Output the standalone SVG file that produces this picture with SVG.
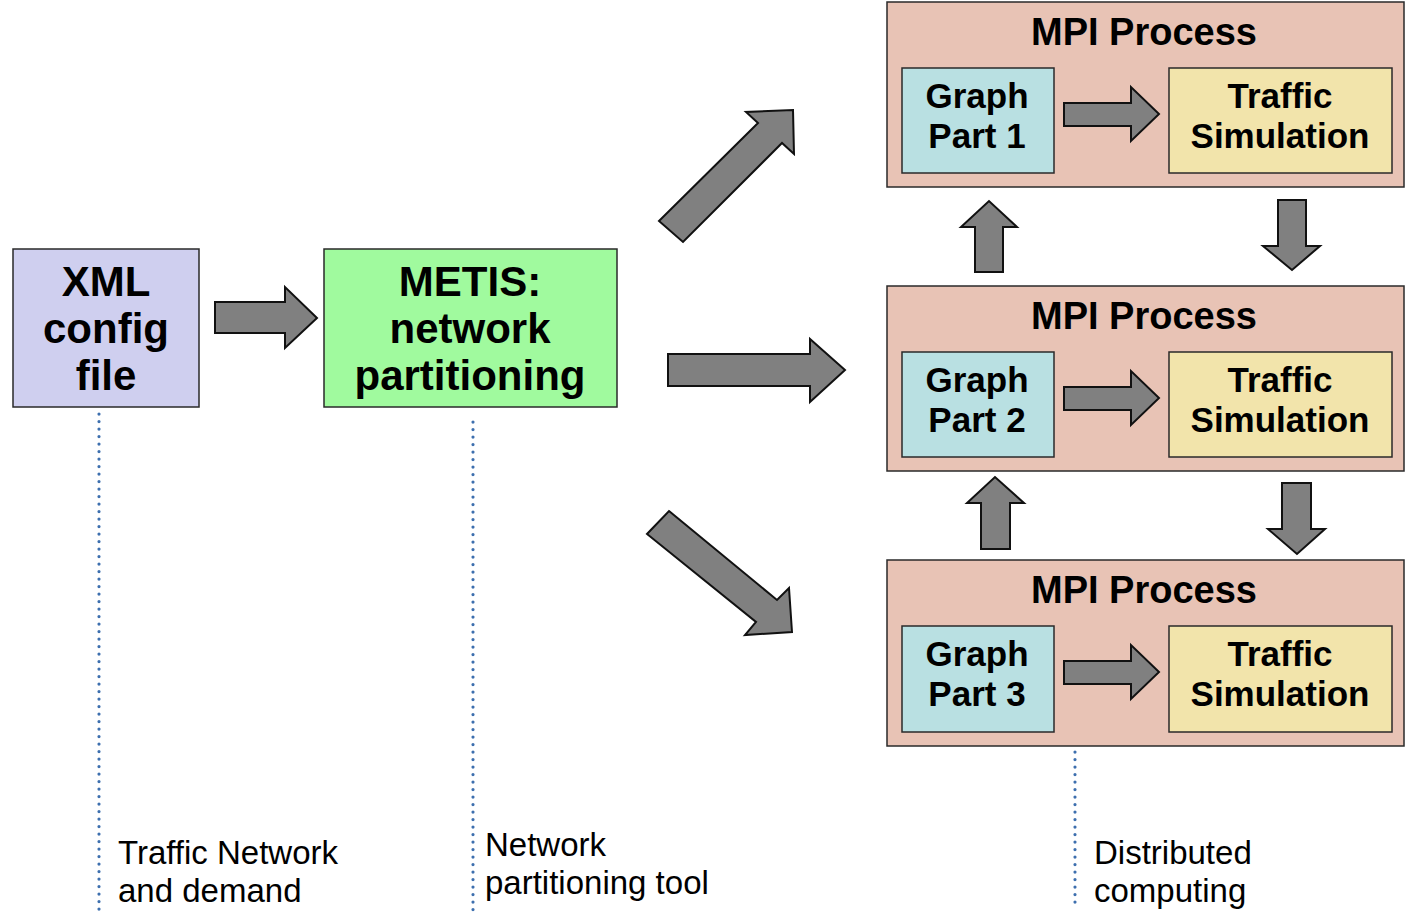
<svg xmlns="http://www.w3.org/2000/svg" width="1412" height="916" viewBox="0 0 1412 916">
<style>
.box{stroke:#2a2a2a;stroke-width:1.5}
.xml{fill:#cfcfef}
.metis{fill:#a0fa9e}
.mpi{fill:#e8c3b5}
.graph{fill:#b9e0e2}
.sim{fill:#f2e4ab}
.arr{fill:#808080;stroke:#111;stroke-width:2;stroke-linejoin:miter}
.dot{stroke:#3d6fae;stroke-width:3.2;stroke-linecap:round;stroke-dasharray:0.1 7.4;fill:none}
.big{font-family:"Liberation Sans",Arial,sans-serif;font-weight:bold;font-size:42px;text-anchor:middle;fill:#000}
.mpit{font-family:"Liberation Sans",Arial,sans-serif;font-weight:bold;font-size:38px;text-anchor:middle;fill:#000}
.inner{font-family:"Liberation Sans",Arial,sans-serif;font-weight:bold;font-size:35px;text-anchor:middle;fill:#000}
.lbl{font-family:"Liberation Sans",Arial,sans-serif;font-size:33px;fill:#000}
</style>
<rect width="1412" height="916" fill="#fff"/>
<g id="connectors">
<line class="dot" x1="99" y1="414" x2="99" y2="910"/>
<line class="dot" x1="473" y1="422" x2="473" y2="910"/>
<line class="dot" x1="1075" y1="752" x2="1075" y2="905"/>
<polygon class="arr" points="215,302 285,302 285,287 317,318 285,348 285,333 215,333"/>
<polygon class="arr" points="668,354 810,354 810,339 845,370 810,402 810,386 668,386"/>
<polygon class="arr" points="659,221 758,123 746,112 793,110 794,154 782,143 683,242"/>
<polygon class="arr" points="669,511 777,600 789,588 792,632 745,635 756,622 647,534"/>
<polygon class="arr" points="975,272 975,227 961,227 989,201 1017,227 1003,227 1003,272"/>
<polygon class="arr" points="1278,200 1306,200 1306,246 1320,246 1292,270 1263,246 1278,246"/>
<polygon class="arr" points="981,549 981,503 967,503 995,477 1024,503 1010,503 1010,549"/>
<polygon class="arr" points="1282,483 1311,483 1311,529 1325,529 1297,554 1268,529 1282,529"/>
</g>
<g id="xml">
<rect class="box xml" x="13" y="249" width="186" height="158"/>
<text class="big" x="106" y="296">XML</text>
<text class="big" x="106" y="343">config</text>
<text class="big" x="106" y="390">file</text>
</g>
<g id="metis">
<rect class="box metis" x="324" y="249" width="293" height="158"/>
<text class="big" x="470" y="296">METIS:</text>
<text class="big" x="470" y="343">network</text>
<text class="big" x="470" y="390">partitioning</text>
</g>
<g id="mpi1">
<rect class="box mpi" x="887" y="2" width="517" height="185"/>
<text class="mpit" x="1144" y="45">MPI Process</text>
<g id="graph1">
<rect class="box graph" x="902" y="68" width="152" height="105"/>
<text class="inner" x="977" y="108">Graph</text>
<text class="inner" x="977" y="148">Part 1</text>
</g>
<polygon class="arr" points="1064,103 1131,103 1131,87 1159,114 1131,141 1131,126 1064,126"/>
<g id="sim1">
<rect class="box sim" x="1169" y="68" width="223" height="105"/>
<text class="inner" x="1280" y="108">Traffic</text>
<text class="inner" x="1280" y="148">Simulation</text>
</g>
</g>
<g id="mpi2">
<rect class="box mpi" x="887" y="286" width="517" height="185"/>
<text class="mpit" x="1144" y="329">MPI Process</text>
<g id="graph2">
<rect class="box graph" x="902" y="352" width="152" height="105"/>
<text class="inner" x="977" y="392">Graph</text>
<text class="inner" x="977" y="432">Part 2</text>
</g>
<polygon class="arr" points="1064,387 1131,387 1131,371 1159,398 1131,425 1131,410 1064,410"/>
<g id="sim2">
<rect class="box sim" x="1169" y="352" width="223" height="105"/>
<text class="inner" x="1280" y="392">Traffic</text>
<text class="inner" x="1280" y="432">Simulation</text>
</g>
</g>
<g id="mpi3">
<rect class="box mpi" x="887" y="560" width="517" height="186"/>
<text class="mpit" x="1144" y="603">MPI Process</text>
<g id="graph3">
<rect class="box graph" x="902" y="626" width="152" height="106"/>
<text class="inner" x="977" y="666">Graph</text>
<text class="inner" x="977" y="706">Part 3</text>
</g>
<polygon class="arr" points="1064,661 1131,661 1131,645 1159,672 1131,699 1131,684 1064,684"/>
<g id="sim3">
<rect class="box sim" x="1169" y="626" width="223" height="106"/>
<text class="inner" x="1280" y="666">Traffic</text>
<text class="inner" x="1280" y="706">Simulation</text>
</g>
</g>
<g id="labels">
<text class="lbl" x="118" y="864">Traffic Network</text>
<text class="lbl" x="118" y="902">and demand</text>
<text class="lbl" x="485" y="856">Network</text>
<text class="lbl" x="485" y="894">partitioning tool</text>
<text class="lbl" x="1094" y="864">Distributed</text>
<text class="lbl" x="1094" y="902">computing</text>
</g>
</svg>
